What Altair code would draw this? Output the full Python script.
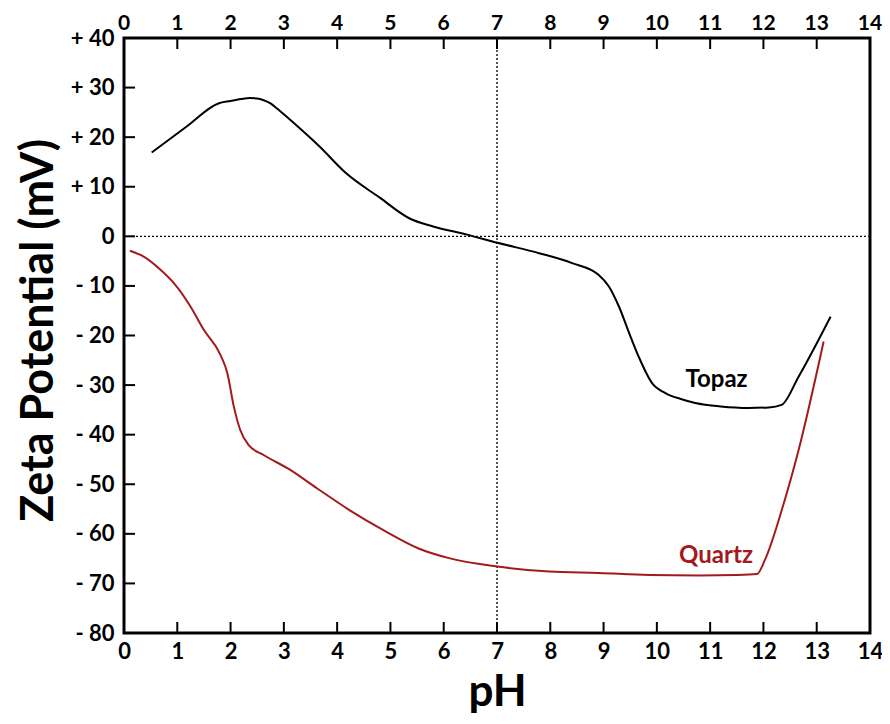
import altair as alt
import pandas as pd

# ---- data ----
topaz_ph = [0.52, 1.17, 1.77, 2.00, 2.20, 2.36, 2.50, 2.61, 2.75, 2.86, 3.00, 3.67, 4.17,
            4.80, 5.36, 5.80, 6.42, 7.01, 7.79, 8.41, 8.91, 9.10, 9.29, 9.48, 9.66, 9.91,
            10.16, 10.45, 10.72, 11.20, 11.72, 12.10, 12.34, 12.66, 13.26]
topaz_z = [16.9, 22.1, 26.8, 27.3, 27.7, 27.9, 27.8, 27.5, 26.8, 25.9, 24.6, 18.1, 12.7,
           7.8, 3.6, 2.0, 0.4, -1.3, -3.4, -5.4, -7.8, -10.1, -14.2, -19.5, -24.3, -29.6,
           -31.6, -32.8, -33.6, -34.3, -34.6, -34.5, -34.0, -28.3, -16.2]

quartz_ph = [0.11, 0.37, 0.69, 0.94, 1.25, 1.50, 1.81, 1.94, 2.06, 2.18, 2.34, 2.62, 3.12,
             3.62, 4.23, 4.86, 5.54, 6.10, 7.01, 7.98, 8.91, 9.85, 10.79, 11.50, 11.88,
             12.03, 12.35, 12.66, 13.13]
quartz_z = [-2.9, -4.1, -6.8, -9.5, -14.2, -18.9, -23.9, -27.6, -34.3, -39.0, -42.1, -44.1,
            -47.1, -50.8, -55.2, -59.2, -63.0, -64.9, -66.6, -67.6, -67.9, -68.3, -68.4,
            -68.3, -68.1, -65.2, -55.0, -43.1, -21.2]

series_names = ["Topaz", "Quartz"]
series_colors = ["#000000", "#a31a1e"]
label_ph = [11.12, 11.11]
label_z = [-30.3, -65.9]

x_tick_values = list(range(0, 15))
x_inner_ticks = list(range(1, 14))
y_tick_values = list(range(-80, 41, 10))
y_inner_ticks = list(range(-70, 31, 10))
ref_x = [7]
ref_y = [0]

FONT = "Lato"
W, H = 746, 595
X_MIN, X_MAX, Y_MIN, Y_MAX = 0, 14, -80, 40
TICK_PX = 11
x_tick_len = TICK_PX * (X_MAX - X_MIN) / W
y_tick_len = TICK_PX * (Y_MAX - Y_MIN) / H

lines_df = pd.concat([
    pd.DataFrame({"pH": topaz_ph, "z": topaz_z, "s": "Topaz"}),
    pd.DataFrame({"pH": quartz_ph, "z": quartz_z, "s": "Quartz"}),
])
labels_df = pd.DataFrame({"pH": label_ph, "z": label_z, "s": series_names})
top_lab_df = pd.DataFrame({"t": x_tick_values})

# inner tick marks as two-point line segments (positions come from the scales)
tick_rows = []
for t in x_inner_ticks:
    tick_rows += [{"id": f"top{t}", "x": t, "y": Y_MAX}, {"id": f"top{t}", "x": t, "y": Y_MAX - y_tick_len}]
    tick_rows += [{"id": f"bot{t}", "x": t, "y": Y_MIN}, {"id": f"bot{t}", "x": t, "y": Y_MIN + y_tick_len}]
for u in y_inner_ticks:
    tick_rows += [{"id": f"left{u}", "x": X_MIN, "y": u}, {"id": f"left{u}", "x": X_MIN + x_tick_len, "y": u}]
ticks_df = pd.DataFrame(tick_rows)

xscale = alt.Scale(domain=[X_MIN, X_MAX], nice=False, zero=False)
yscale = alt.Scale(domain=[Y_MIN, Y_MAX], nice=False, zero=False)
cscale = alt.Scale(domain=series_names, range=series_colors)

label_style = dict(tickSize=0, domain=False, grid=False, labelFont=FONT, labelFlush=False,
                   labelFontSize=22, labelFontWeight="bold", labelColor="black",
                   titleFont=FONT, titleFontWeight="bold", titleColor="black")

x_axis = alt.Axis(orient="bottom", values=x_tick_values, labelPadding=8,
                  title="pH", titleFontSize=44, titleX=W / 2, titleY=72,
                  titleAlign="center", titleBaseline="alphabetic", **label_style)
y_axis = alt.Axis(orient="left", values=y_tick_values, labelPadding=10,
                  labelExpr="datum.value > 0 ? '+ ' + datum.value : (datum.value < 0 ? '- ' + abs(datum.value) : '0')",
                  title="Zeta Potential (mV)", titleFontSize=45, titleAngle=270,
                  titleX=-72, titleY=292, titleAlign="center", titleBaseline="alphabetic",
                  **label_style)

X = lambda f: alt.X(f, scale=xscale, axis=x_axis)
Y = lambda f: alt.Y(f, scale=yscale, axis=y_axis)

hline = alt.Chart(pd.DataFrame({"v": ref_y})).mark_rule(
    color="black", strokeDash=[2, 2], strokeWidth=1.3
).encode(y=Y("v:Q"))

vline = alt.Chart(pd.DataFrame({"v": ref_x})).mark_rule(
    color="black", strokeDash=[2, 2], strokeWidth=1.3
).encode(x=X("v:Q"))

lines = alt.Chart(lines_df).mark_line(strokeWidth=2, interpolate="monotone").encode(
    x=X("pH:Q"),
    y=Y("z:Q"),
    color=alt.Color("s:N", scale=cscale, legend=None),
    detail="s:N",
)

ticks = alt.Chart(ticks_df).mark_line(color="black", strokeWidth=2).encode(
    x=X("x:Q"),
    y=Y("y:Q"),
    detail="id:N",
)

top_labels = alt.Chart(top_lab_df).mark_text(
    font=FONT, fontSize=21, fontWeight="bold", color="black", baseline="alphabetic"
).encode(x=X("t:Q"), y=alt.value(-8), text=alt.Text("t:Q", format="d"))

texts = alt.Chart(labels_df).mark_text(
    font=FONT, fontSize=24, fontWeight="bold", baseline="alphabetic"
).encode(
    x=X("pH:Q"),
    y=Y("z:Q"),
    text="s:N",
    color=alt.Color("s:N", scale=cscale, legend=None),
)

chart = alt.layer(hline, vline, lines, ticks, top_labels, texts).properties(
    width=W, height=H,
    autosize=alt.AutoSizeParams(type="none"),
    padding={"left": 116, "top": 30, "right": 12, "bottom": 83},
    background="white",
).configure_view(stroke="black", strokeWidth=3)

chart.save("out.html", embed_options={"renderer": "svg", "actions": False})
